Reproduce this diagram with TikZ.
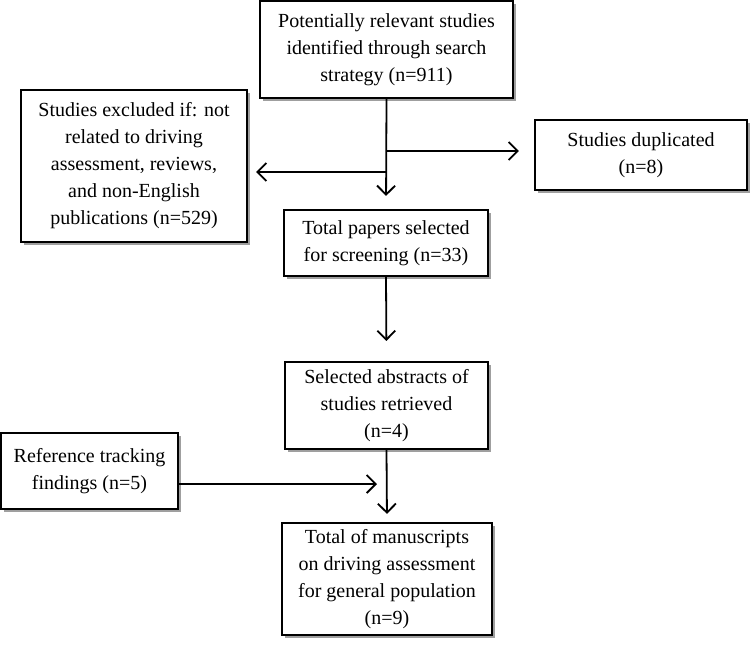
\documentclass[tikz,border=0pt]{standalone}
\usepackage{fontspec}
\setmainfont{Liberation Serif}
\usepackage{tikz}
\usetikzlibrary{arrows.meta,shadows}
\tikzset{box/.style = {draw, line width = 2.2pt, fill = white, align = center, inner sep = 0,
    font = \fontsize{20}{27}\selectfont,
    drop shadow = {shadow xshift = 3pt, shadow yshift = -3pt, fill = gray!75, opacity = 1}},
  arr/.style = {line width = 1.8pt, -{Straight Barb[length = 9pt, width = 18pt, line width = 1.8pt]}}}

\begin{document}
\begin{tikzpicture}[x = 1pt, y = 1pt]
      \useasboundingbox (0, 0) rectangle (751, -648);
      \node [box, minimum width = 253, minimum height = 97] (search) at (386.5, -49.5)
        {Potentially relevant studies\\identified through search\\strategy (n=911)};
      \node [box, minimum width = 226, minimum height = 152] (excl) at (134, -166)
        {Studies excluded if: not\\related to driving\\assessment, reviews,\\and non-English\\publications (n=529)};
      \node [box, minimum width = 212, minimum height = 70] (dupl) at (641, -155)
        {Studies duplicated\\(n=8)};
      \node [box, minimum width = 204, minimum height = 66] (screen) at (386, -243)
        {Total papers selected\\for screening (n=33)};
      \node [box, minimum width = 203, minimum height = 87] (abstr) at (386.5, -405.5)
        {Selected abstracts of\\studies retrieved\\(n=4)};
      \node [box, minimum width = 177, minimum height = 76] (track) at (89.5, -471)
        {Reference tracking\\findings (n=5)};
      \node [box, minimum width = 210, minimum height = 112] (final) at (387, -579)
        {Total of manuscripts\\on driving assessment\\for general population\\(n=9)};
      \coordinate (jr) at (386, -151);
      \coordinate (jl) at (386, -172);
      \coordinate (jm) at (387, -484);
      \draw [arr, shorten > = 13pt] (search.south) -- (screen.north);
      \draw [arr, shorten > = 15pt] (jr) -- (jr -| dupl.west);
      \draw [arr, shorten > = 8pt] (jl) -- (jl -| excl.east);
      \draw [arr, shorten > = 20pt] (screen.south) -- (abstr.north);
      \draw [arr, shorten > = 8pt] (abstr.south) -- (final.north);
      \draw [arr, shorten > = 10pt] ([yshift = -13pt]track.east) -- (jm);
    \end{tikzpicture}
\end{document}
